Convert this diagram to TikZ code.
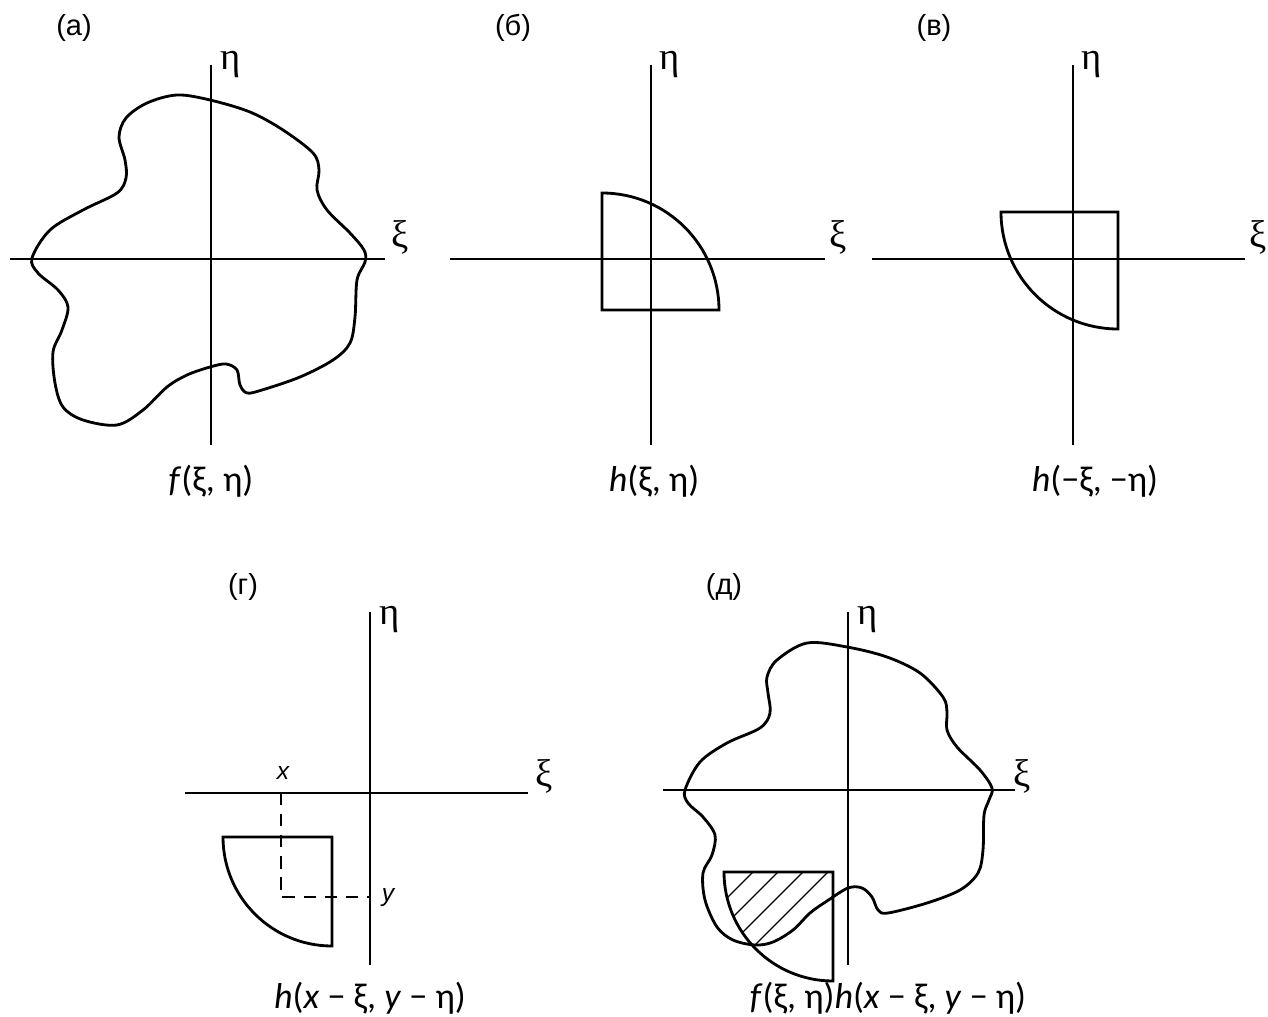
\documentclass[tikz,border=0pt]{standalone}
\usepackage{fontspec}
\setmainfont{Liberation Sans}
\newfontfamily\capfont{Carlito}
\newfontfamily\axfont{Liberation Serif}
\tikzset{
  axis/.style={line width=0.85pt},
  outl/.style={line width=1.6pt, line join=miter},
  blobline/.style={line width=1.6pt},
  hatch/.style={line width=0.7pt},
  guide/.style={line width=0.85pt, dash pattern=on 7pt off 5pt},
  plabel/.style={font=\fontsize{16.5}{19}\selectfont, inner sep=0pt},
  axlabel/.style={font=\axfont\fontsize{22}{26}\selectfont, inner sep=0pt},
  caption/.style={font=\capfont\fontsize{20.5}{24}\selectfont, inner sep=0pt},
  varlabel/.style={font=\itshape\fontsize{14}{17}\selectfont, inner sep=0pt}
}
\begin{document}
\begin{tikzpicture}[x=0.02cm,y=-0.02cm]
\useasboundingbox (0,0) rectangle (1268,1017);

% ---------- (a) ----------
\draw[axis] (10,259) -- (385,259);
\draw[axis] (211,65) -- (211,445);
\draw[blobline] plot[smooth cycle, tension=0.55] coordinates {
 (32,258) (50,230) (83,210) (117,193) (126,178) (125,160) (119,137) (126,118)
 (147,103) (177,95) (210,100) (250,112) (283,130) (313,153) (319,170) (317,190)
 (327,210) (350,233) (364,250) (365,262) (357,280) (355,317) (350,343) (333,360)
 (300,377) (262,390) (247,393) (240,385) (237,370) (226,364) (210,367) (187,375)
 (167,387) (143,410) (117,425) (83,420) (63,407) (55,383) (53,352) (62,330)
 (68,307) (58,290) (38,273)};
\node[axlabel] (etaA) at (231,65) {η};
\node[axlabel] (xiA) at (400,237) {ξ};
\node[caption] (capA) at (211,481) {\textit{f}(ξ, η)};
\node[plabel] (labA) at (74,28) {(а)};

% ---------- (б) ----------
\draw[axis] (450,259) -- (825,259);
\draw[axis] (651,65) -- (651,445);
\draw[outl] (602,310) -- (602,193) arc[start angle=-90, end angle=0, radius=117] -- cycle;
\node[axlabel] (etaB) at (670,65) {η};
\node[axlabel] (xiB) at (838,237) {ξ};
\node[caption] (capB) at (654,481) {\textit{h}(ξ, η)};
\node[plabel] (labB) at (513,28) {(б)};

% ---------- (в) ----------
\draw[axis] (872,259) -- (1245,259);
\draw[axis] (1073,65) -- (1073,445);
\draw[outl] (1118,212) -- (1001,212) arc[start angle=180, end angle=90, radius=117] -- cycle;
\node[axlabel] (etaC) at (1092,65) {η};
\node[axlabel] (xiC) at (1258,237) {ξ};
\node[caption] (capC) at (1095,481) {\textit{h}(−ξ, −η)};
\node[plabel] (labC) at (934,28) {(в)};

% ---------- (г) ----------
\draw[axis] (185,793) -- (528,793);
\draw[axis] (370,612) -- (370,965);
\draw[outl] (332,837) -- (223,837) arc[start angle=180, end angle=90, radius=109] -- cycle;
\coordinate (gx) at (281,793);
\coordinate (gc) at (281,897);
\coordinate (gy) at (370,897);
\draw[guide] (gx) -- (gc) -- (gy);
\node[varlabel] (xG) at (283,773) {x};
\node[varlabel] (yG) at (388,898) {y};
\node[axlabel] (etaD) at (390,620) {η};
\node[axlabel] (xiD) at (544,776) {ξ};
\node[caption] (capD) at (370,998) {\textit{h}(\textit{x} − ξ, \textit{y} − η)};
\node[plabel] (labD) at (243,587) {(г)};

% ---------- (д) ----------
\draw[axis] (663,790) -- (1015,790);
\draw[axis] (848,612) -- (848,965);
\begin{scope}
 \clip (833,872) -- (724,872) arc[start angle=180, end angle=90, radius=109] -- cycle;
 \clip plot[smooth cycle, tension=0.55] coordinates {
 (685,790) (700,762) (727,743) (760,728) (770,713) (768,693) (767,677) (777,660)
 (807,643) (847,647) (887,657) (920,673) (943,697) (947,712) (947,730) (957,747)
 (980,770) (992,788) (989,800) (984,815) (983,850) (978,873) (960,890) (927,903)
 (888,913) (878,910) (872,897) (862,888) (848,888) (827,901) (810,913) (793,930)
 (773,942) (755,945) (733,940) (717,927) (705,900) (703,873) (712,855) (715,835)
 (703,817) (688,803)};
 \foreach \c in {1625,1650,1675,1700}
   \draw[hatch] (\c-872+60,812) -- (\c-1000,1000);
\end{scope}
\draw[blobline] plot[smooth cycle, tension=0.55] coordinates {
 (685,790) (700,762) (727,743) (760,728) (770,713) (768,693) (767,677) (777,660)
 (807,643) (847,647) (887,657) (920,673) (943,697) (947,712) (947,730) (957,747)
 (980,770) (992,788) (989,800) (984,815) (983,850) (978,873) (960,890) (927,903)
 (888,913) (878,910) (872,897) (862,888) (848,888) (827,901) (810,913) (793,930)
 (773,942) (755,945) (733,940) (717,927) (705,900) (703,873) (712,855) (715,835)
 (703,817) (688,803)};
\draw[outl] (833,872) -- (724,872) arc[start angle=180, end angle=90, radius=109] -- cycle;
\node[axlabel] (etaE) at (868,620) {η};
\node[axlabel] (xiE) at (1022,776) {ξ};
\node[caption] (capE) at (888,998) {\textit{f}(ξ, η)\textit{h}(\textit{x} − ξ, \textit{y} − η)};
\node[plabel] (labE) at (724,587) {(д)};
\end{tikzpicture}
\end{document}
